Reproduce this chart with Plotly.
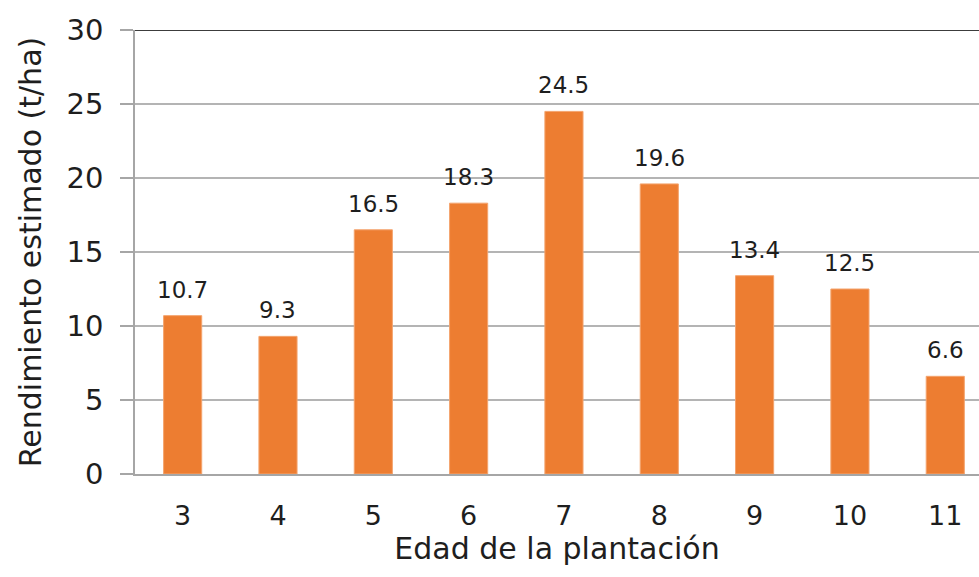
import plotly.graph_objects as go

edades = ["3", "4", "5", "6", "7", "8", "9", "10", "11"]
rendimiento = [10.7, 9.3, 16.5, 18.3, 24.5, 19.6, 13.4, 12.5, 6.6]
etiquetas = ["10.7", "9.3", "16.5", "18.3", "24.5", "19.6", "13.4", "12.5", "6.6"]
y_ticks = [0, 5, 10, 15, 20, 25, 30]

FONT = "DejaVu Sans"
TXT = "#1e1e1e"
GRID = "#b4b4b4"

fig = go.Figure()
fig.add_trace(go.Bar(
    x=edades, y=rendimiento, width=0.4,
    marker=dict(color="#ED7D31", line=dict(color="#F4A46E", width=1)),
    hoverinfo="skip",
))

for i, (v, t) in enumerate(zip(rendimiento, etiquetas)):
    fig.add_annotation(x=i, y=v, text=t, showarrow=False, yanchor="bottom",
                       yshift=11, font=dict(family=FONT, size=23, color=TXT))

fig.add_shape(type="line", xref="paper", yref="y", x0=0, x1=1, y0=30, y1=30,
              line=dict(color="#3c3c3c", width=2))

fig.update_layout(
    width=979, height=577,
    margin=dict(l=135, r=0, t=30, b=103),
    paper_bgcolor="white", plot_bgcolor="white",
    showlegend=False,
    font=dict(family=FONT, color=TXT),
    xaxis=dict(
        type="category", range=[-0.5, 8.354],
        showline=True, linecolor="#a6a6a6", linewidth=1.5,
        ticks="", showgrid=False,
        tickfont=dict(family=FONT, size=27, color=TXT),
        ticklabelstandoff=17,
        title=dict(text="Edad de la plantación", font=dict(family=FONT, size=30, color=TXT), standoff=4),
    ),
    yaxis=dict(
        range=[0, 30], tickvals=y_ticks,
        showline=True, linecolor="#a6a6a6", linewidth=1.5,
        ticks="outside", ticklen=13, tickcolor="#a6a6a6", tickwidth=1.5,
        showgrid=True, gridcolor=GRID, gridwidth=1.5, zeroline=False,
        tickfont=dict(family=FONT, size=29, color=TXT),
        ticklabelstandoff=11,
        title=dict(text="Rendimiento estimado (t/ha)", font=dict(family=FONT, size=30, color=TXT), standoff=16),
    ),
)

fig.write_html("out.html")
